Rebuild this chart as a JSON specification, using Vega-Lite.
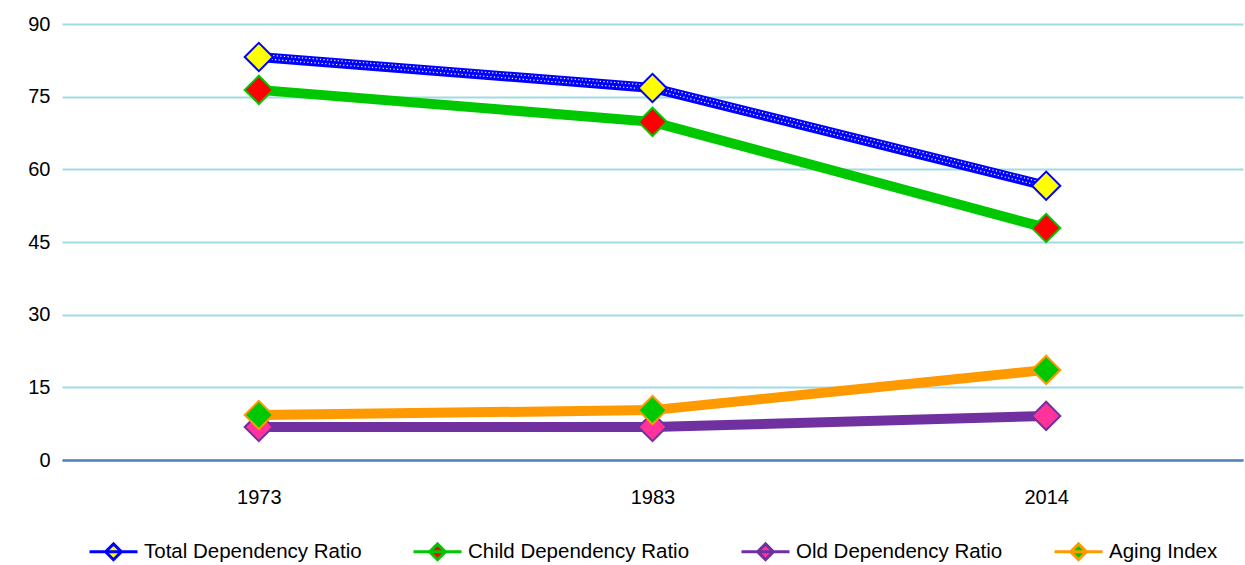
{
  "$schema": "https://vega.github.io/schema/vega-lite/v6.json",
  "width": 1181,
  "height": 436,
  "autosize": "none",
  "padding": {"left": 62, "top": 24, "right": 2, "bottom": 105},
  "background": "white",
  "config": {
    "view": {"stroke": null},
    "font": "Liberation Sans"
  },
  "data": {
    "values": [
      {"year": "1973", "series": "Total Dependency Ratio", "value": 83.2},
      {"year": "1983", "series": "Total Dependency Ratio", "value": 76.8},
      {"year": "2014", "series": "Total Dependency Ratio", "value": 56.6},
      {"year": "1973", "series": "Child Dependency Ratio", "value": 76.4},
      {"year": "1983", "series": "Child Dependency Ratio", "value": 69.8},
      {"year": "2014", "series": "Child Dependency Ratio", "value": 47.9},
      {"year": "1973", "series": "Old Dependency Ratio", "value": 6.8},
      {"year": "1983", "series": "Old Dependency Ratio", "value": 6.8},
      {"year": "2014", "series": "Old Dependency Ratio", "value": 9.1},
      {"year": "1973", "series": "Aging Index", "value": 9.3},
      {"year": "1983", "series": "Aging Index", "value": 10.3},
      {"year": "2014", "series": "Aging Index", "value": 18.6}
    ]
  },
  "encoding": {
    "x": {
      "field": "year", "type": "ordinal",
      "scale": {"type": "point", "padding": 0.5},
      "axis": {"title": null, "labelAngle": 0, "ticks": false, "domainColor": "#4F81BD", "domainWidth": 2.5, "labelFontSize": 20, "labelColor": "black", "labelPadding": 27, "grid": false, "zindex": 1}
    },
    "y": {
      "field": "value", "type": "quantitative",
      "scale": {"domain": [0, 90], "nice": false},
      "axis": {"title": null, "values": [0, 15, 30, 45, 60, 75, 90], "domain": false, "ticks": false, "labelFontSize": 20, "labelColor": "black", "labelPadding": 12, "grid": true, "gridColor": "#A0DCE4", "gridWidth": 2, "gridOpacity": 1}
    }
  },
  "layer": [
    {
      "mark": {"type": "line", "strokeWidth": 10},
      "encoding": {
        "stroke": {
          "field": "series", "type": "nominal",
          "scale": {"domain": ["Total Dependency Ratio", "Child Dependency Ratio", "Old Dependency Ratio", "Aging Index"], "range": ["#0000FF", "#00C800", "#7030A0", "#FF9900"]},
          "legend": {
            "title": null, "orient": "none", "direction": "horizontal",
            "legendX": 26, "legendY": 502, "padding": 0,
            "symbolType": "M-1,0H1M-0.33,0L0,-0.33L0.33,0L0,0.33Z",
            "symbolSize": 2304, "symbolStrokeWidth": 3,
            "labelFontSize": 20.5, "labelColor": "black", "labelOffset": 5, "labelLimit": 500, "columnPadding": 45,
            "encode": {"symbols": {"update": {"fill": {"scale": "fill", "field": "value"}, "fillOpacity": {"value": 1}, "opacity": {"value": 1}}}}
          }
        }
      }
    },
    {
      "transform": [{"filter": "datum.series === 'Total Dependency Ratio'"}],
      "mark": {"type": "line", "strokeWidth": 1.2, "color": "white", "strokeDash": [1.2, 2.4], "yOffset": -2.5},
      "encoding": {}
    },
    {
      "transform": [{"filter": "datum.series === 'Total Dependency Ratio'"}],
      "mark": {"type": "line", "strokeWidth": 1.2, "color": "white", "strokeDash": [1.2, 2.4], "strokeDashOffset": 1.8, "yOffset": 1.5},
      "encoding": {}
    },
    {
      "mark": {"type": "point", "shape": "diamond", "size": 800, "filled": true, "strokeWidth": 2, "opacity": 1},
      "encoding": {
        "fill": {
          "field": "series", "type": "nominal",
          "scale": {"domain": ["Total Dependency Ratio", "Child Dependency Ratio", "Old Dependency Ratio", "Aging Index"], "range": ["#FFFF00", "#FF0000", "#FF3399", "#00C800"]},
          "legend": null
        },
        "stroke": {
          "field": "series", "type": "nominal"
        }
      }
    }
  ]
}
